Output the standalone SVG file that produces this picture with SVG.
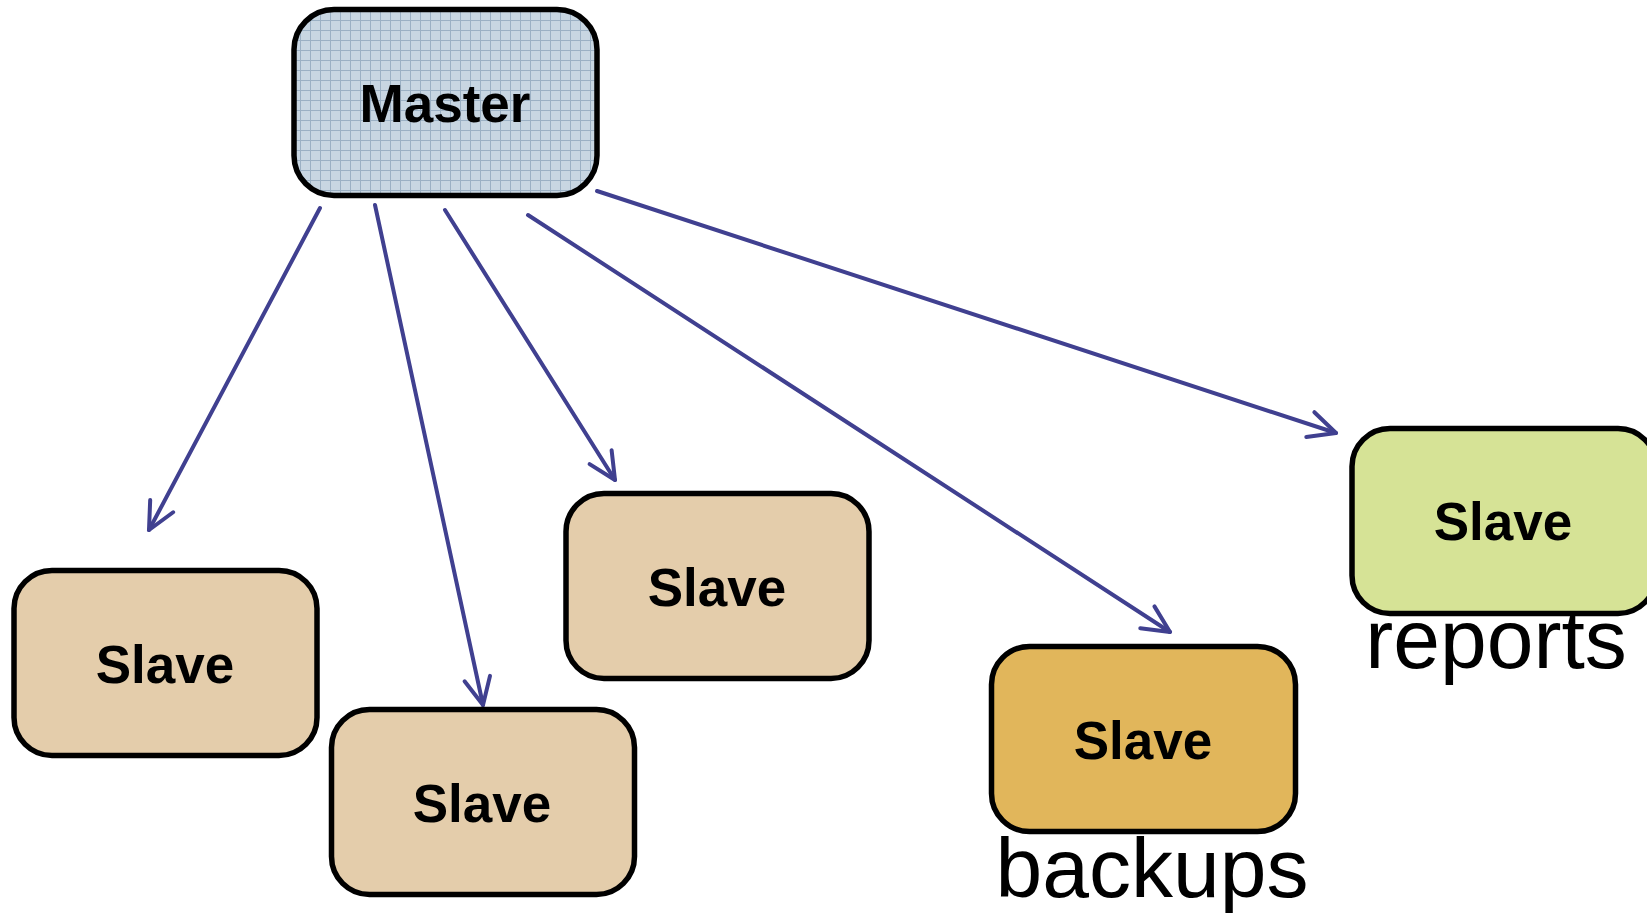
<svg xmlns="http://www.w3.org/2000/svg" width="1647" height="913" viewBox="0 0 1647 913">
<style>
.box{stroke:#000;stroke-width:5.5}
.lbl{font-family:"Liberation Sans",Arial,sans-serif;font-weight:bold;font-size:53px;fill:#000;text-anchor:middle}
.cap{font-family:"Liberation Sans",Arial,sans-serif;font-size:84px;fill:#000;text-anchor:middle}
.conn{stroke:#404090;stroke-width:4;fill:none;stroke-linecap:round;marker-end:url(#arr)}
</style>
<defs>
<pattern id="grid" width="10" height="10" patternUnits="userSpaceOnUse">
<rect width="10" height="10" fill="#c8d6e2"/>
<path d="M0,0.5H10M0.5,0V10" stroke="#9bb0c4" stroke-width="1"/>
</pattern>
<marker id="arr" markerUnits="userSpaceOnUse" markerWidth="40" markerHeight="40" refX="0" refY="0" viewBox="-32 -20 36 40" orient="auto" overflow="visible">
<path d="M-27,-13 L0,0 L-27,13" fill="none" stroke="#404090" stroke-width="4" stroke-linecap="round" stroke-linejoin="round"/>
</marker>
</defs>
<g id="connectors">
<line class="conn" x1="320" y1="208" x2="149" y2="530"/>
<line class="conn" x1="375" y1="205" x2="483" y2="705"/>
<line class="conn" x1="445" y1="210" x2="615" y2="480"/>
<line class="conn" x1="528" y1="215" x2="1170" y2="632"/>
<line class="conn" x1="597" y1="191" x2="1336" y2="433"/>
</g>
<g id="master">
<rect class="box" x="294" y="9.5" width="303" height="186" rx="40" fill="url(#grid)"/>
<text class="lbl" x="445" y="122">Master</text>
</g>
<g id="slave1">
<rect class="box" x="14" y="570.5" width="303" height="185" rx="38" fill="#e4cdab"/>
<text class="lbl" x="165" y="683">Slave</text>
</g>
<g id="slave2">
<rect class="box" x="331.5" y="709.5" width="303" height="185" rx="38" fill="#e4cdab"/>
<text class="lbl" x="482" y="822">Slave</text>
</g>
<g id="slave3">
<rect class="box" x="566" y="493.5" width="303" height="185" rx="38" fill="#e4cdab"/>
<text class="lbl" x="717" y="606">Slave</text>
</g>
<g id="slave-backups">
<rect class="box" x="991.5" y="646.5" width="304" height="185" rx="38" fill="#e1b65b"/>
<text class="lbl" x="1143" y="759">Slave</text>
<text class="cap" x="1152" y="897">backups</text>
</g>
<g id="slave-reports">
<rect class="box" x="1352" y="428.5" width="304" height="185" rx="38" fill="#d6e396"/>
<text class="lbl" x="1503" y="540">Slave</text>
<text class="cap" x="1496" y="668">reports</text>
</g>
</svg>
